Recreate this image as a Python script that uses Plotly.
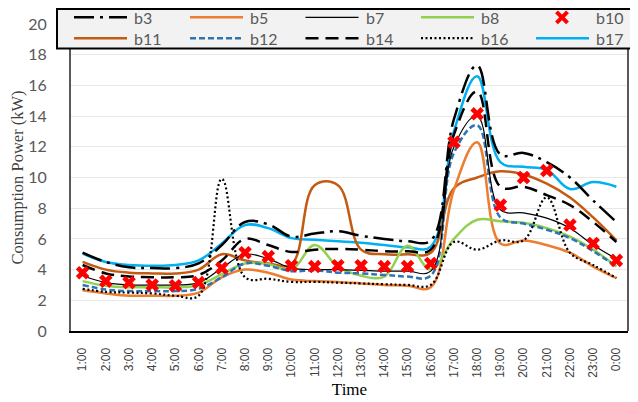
import plotly.graph_objects as go

hours = ["1:00", "2:00", "3:00", "4:00", "5:00", "6:00", "7:00", "8:00", "9:00", "10:00",
         "11:00", "12:00", "13:00", "14:00", "15:00", "16:00", "17:00", "18:00", "19:00",
         "20:00", "21:00", "22:00", "23:00", "0:00"]

b3 = [5.1, 4.5, 4.15, 4.1, 4.1, 4.4, 5.6, 7.1, 6.95, 6.15, 6.35, 6.5, 6.2, 6.0, 5.85, 5.9,
      13.8, 17.3, 11.5, 11.6, 11.0, 10.0, 8.5, 7.1]
b5 = [2.65, 2.45, 2.3, 2.3, 2.3, 2.5, 3.5, 4.0, 3.8, 3.35, 3.25, 3.2, 3.1, 3.0, 2.95, 2.85,
      9.2, 12.3, 5.7, 5.9, 5.6, 5.1, 4.2, 3.45]
b7 = [3.6, 3.15, 3.0, 3.0, 3.0, 3.15, 4.1, 5.0, 4.7, 4.1, 4.0, 4.0, 3.95, 3.9, 3.9, 3.9,
      12.0, 14.0, 7.9, 7.7, 7.35, 6.7, 5.6, 4.7]
b8 = [3.25, 2.95, 2.85, 2.85, 2.85, 3.0, 3.7, 4.4, 4.35, 4.0, 5.6, 4.2, 3.6, 3.55, 5.55, 4.0,
      6.0, 7.25, 7.15, 7.05, 6.7, 6.15, 5.3, 4.2]
b10 = [3.8, 3.25, 3.15, 3.0, 2.95, 3.15, 4.1, 5.1, 4.85, 4.25, 4.2, 4.25, 4.25, 4.2, 4.2, 4.4,
       12.3, 14.15, 8.2, 10.0, 10.45, 6.9, 5.7, 4.6]
b11 = [4.5, 4.0, 3.8, 3.75, 3.75, 4.0, 5.0, 4.6, 4.4, 4.35, 9.5, 9.5, 5.3, 5.0, 5.0, 5.1,
       9.3, 10.0, 10.4, 10.2, 9.6, 8.7, 7.4, 5.9]
b12 = [3.0, 2.7, 2.6, 2.6, 2.6, 2.75, 3.5, 4.4, 4.25, 3.9, 3.95, 3.8, 3.75, 3.65, 3.55, 3.6,
       11.6, 13.4, 7.4, 7.0, 6.6, 6.05, 5.2, 4.2]
b14 = [4.3, 3.75, 3.55, 3.5, 3.5, 3.65, 4.6, 6.0, 5.6, 5.15, 5.3, 5.35, 5.3, 5.2, 5.2, 5.3,
       12.8, 15.6, 9.4, 9.4, 8.85, 8.2, 7.1, 5.8]
b16 = [2.75, 2.55, 2.5, 2.45, 2.3, 2.3, 9.9, 3.5, 3.4, 3.2, 3.2, 3.15, 3.1, 3.05, 3.0, 3.0,
       5.8, 5.3, 5.9, 5.9, 8.7, 5.1, 4.3, 3.45]
b17 = [5.05, 4.5, 4.3, 4.25, 4.3, 4.6, 5.7, 6.9, 6.7, 6.05, 5.95, 5.85, 5.75, 5.6, 5.45, 5.5,
       13.0, 16.6, 11.0, 10.7, 10.5, 9.25, 9.7, 9.4]

y_ticks = [0, 2, 4, 6, 8, 10, 12, 14, 16, 18, 20]

# legend layout: (name, row, column)
legend_order = [("b3", 0, 0), ("b5", 0, 1), ("b7", 0, 2), ("b8", 0, 3), ("b10", 0, 4),
                ("b11", 1, 0), ("b12", 1, 1), ("b14", 1, 2), ("b16", 1, 3), ("b17", 1, 4)]

styles = {
    "b3": ("#000000", 2.5, "20px,6px,3px,6px"),
    "b5": ("#ED7D31", 2.5, "solid"),
    "b7": ("#000000", 1.2, "solid"),
    "b8": ("#92D050", 2.5, "solid"),
    "b11": ("#C55A11", 2.5, "solid"),
    "b12": ("#2E75B6", 2.5, "6px,3px"),
    "b14": ("#000000", 2.5, "13px,7px"),
    "b16": ("#000000", 2.2, "2px,2.5px"),
    "b17": ("#00B0F0", 2.5, "solid"),
}
data = {"b3": b3, "b5": b5, "b7": b7, "b8": b8, "b11": b11, "b12": b12,
        "b14": b14, "b16": b16, "b17": b17}
draw_order = ["b17", "b11", "b5", "b8", "b12", "b16", "b14", "b7", "b3"]

fig = go.Figure()
for name in draw_order:
    color, w, dash = styles[name]
    fig.add_trace(go.Scatter(
        x=hours, y=data[name], name=name, mode="lines",
        line=dict(color=color, width=w, dash=dash, shape="spline", smoothing=1.1),
    ))
fig.add_trace(go.Scatter(
    x=hours, y=b10, name="b10", mode="markers",
    marker=dict(symbol="x", size=12, color="#FF0000", line=dict(width=0)),
))

# geometry of the plot area in figure pixels
L, T, W, H = 63, 15.5, 557, 308
FIG_W, FIG_H = 638, 402


def px(fx):
    return (fx - L) / W


def py(fy):
    return (T + H - fy) / H


fig.update_layout(
    width=FIG_W, height=FIG_H,
    margin=dict(l=L, r=FIG_W - L - W, t=T, b=FIG_H - T - H, autoexpand=False),
    paper_bgcolor="white", plot_bgcolor="white",
    showlegend=False,
    xaxis=dict(
        type="category", range=[-0.5, 23.5],
        tickangle=-90, tickfont=dict(family="Liberation Sans", size=12, color="#404040"),
        showline=True, linecolor="#000000", linewidth=2, mirror=False,
        showgrid=False, ticks="", ticklabelstandoff=10,
        title=dict(text="Time", font=dict(family="Liberation Serif", size=17, color="#000000"), standoff=6),
    ),
    yaxis=dict(
        range=[0, 20], tickvals=y_ticks,
        tickfont=dict(family="Lato", size=16, color="#595959"),
        showline=True, linecolor="#595959", linewidth=2,
        showgrid=True, gridcolor="#E8E8E8", gridwidth=1,
        zeroline=False, ticks="", ticklabelstandoff=19,
        title=dict(text="Consumption Power (kW)", font=dict(family="Liberation Serif", size=16.5, color="#404040"), standoff=10),
    ),
)

# right border of the plot area
fig.add_shape(type="line", xref="paper", yref="paper", x0=1, x1=1, y0=0, y1=1,
              line=dict(color="#595959", width=2))

# legend box (figure pixels)
fig.add_shape(type="rect", xref="paper", yref="paper", layer="above",
              x0=px(49), x1=px(624), y0=py(40), y1=py(0.5),
              fillcolor="#F2F2F2", line=dict(color="#000000", width=2))

row_y = [8.8, 29.7]
col_x = [66, 182, 297.5, 413, 528]
for name, r, c in legend_order:
    fy = row_y[r]
    x0 = col_x[c]
    if name == "b10":
        cx, h = x0 + 26, 5.5
        path = (f"M {px(cx - h)},{py(fy - h)} L {px(cx + h)},{py(fy + h)} "
                f"M {px(cx - h)},{py(fy + h)} L {px(cx + h)},{py(fy - h)}")
        fig.add_shape(type="path", xref="paper", yref="paper", layer="above", path=path,
                      line=dict(color="#FF0000", width=4))
    else:
        color, w, dash = styles[name]
        fig.add_shape(type="line", xref="paper", yref="paper", layer="above",
                      x0=px(x0), x1=px(x0 + 53), y0=py(fy), y1=py(fy),
                      line=dict(color=color, width=w, dash=dash))
    fig.add_annotation(text=name, xref="paper", yref="paper", x=px(x0 + 58), y=py(fy),
                       xanchor="left", yanchor="middle", showarrow=False,
                       font=dict(family="Lato", size=16, color="#595959"))

fig.write_html("out.html")
